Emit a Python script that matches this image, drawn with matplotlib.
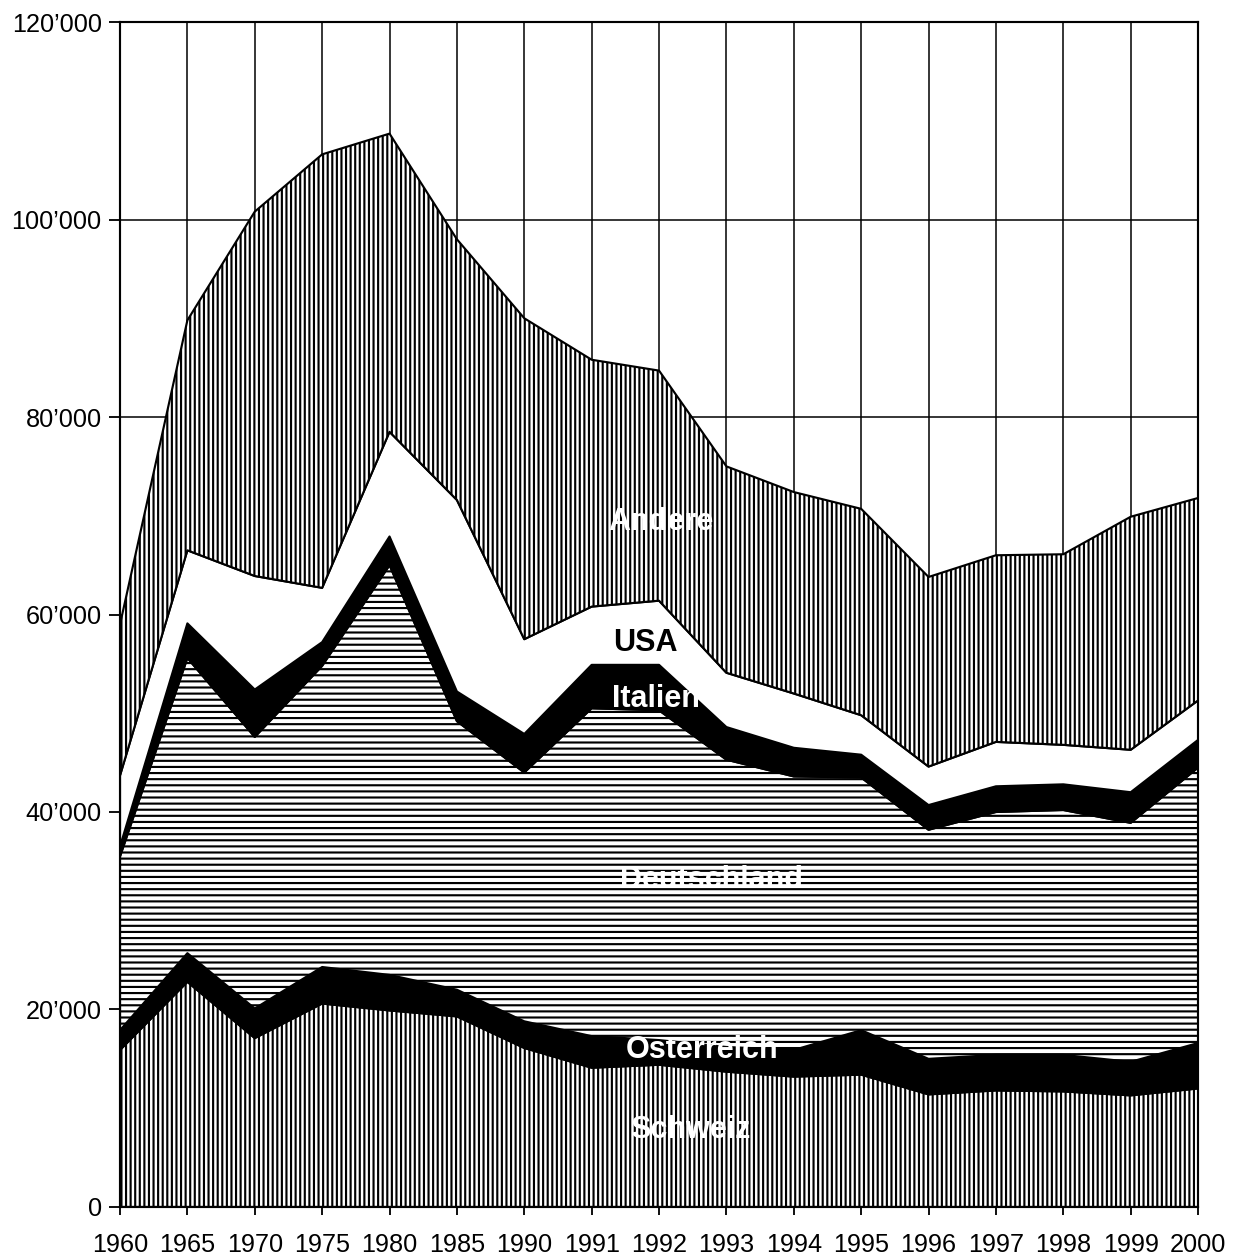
import matplotlib
matplotlib.use("Agg")
import matplotlib.pyplot as plt
from matplotlib.ticker import FuncFormatter

plt.rcParams['font.family'] = ['Liberation Sans', 'DejaVu Sans']
plt.rcParams['hatch.linewidth'] = 1.4
plt.rcParams['hatch.color'] = 'black'

years = ['1960', '1965', '1970', '1975', '1980', '1985', '1990', '1991', '1992',
         '1993', '1994', '1995', '1996', '1997', '1998', '1999', '2000']

schweiz = [15900, 22800, 17100, 20600, 19900, 19300, 16100, 14100, 14400,
           13700, 13200, 13400, 11400, 11800, 11700, 11300, 12000]
oesterreich = [2000, 2900, 3000, 3700, 3600, 2700, 2700, 3200, 2500,
               2500, 2700, 4500, 3600, 3600, 3700, 3400, 4600]
deutschland = [17600, 29900, 27500, 30500, 41500, 27200, 25200, 33200, 33400,
               29100, 27700, 25600, 23200, 24600, 24800, 24200, 27900]
italien = [1000, 3500, 4800, 2400, 2900, 3000, 3900, 4400, 4600,
           3300, 2900, 2300, 2500, 2600, 2600, 3100, 2800]
usa = [7200, 7400, 11500, 5500, 10600, 19400, 9600, 5900, 6500,
       5500, 5500, 4000, 3900, 4500, 4000, 4300, 4000]
andere = [15300, 23300, 36900, 43900, 30200, 26400, 32500, 25000, 23300,
          20900, 20400, 20900, 19200, 18900, 19300, 23600, 20500]

labels = ['Schweiz', 'Österreich', 'Deutschland', 'Italien', 'USA', 'Andere']

dpi = 110
fig = plt.figure(figsize=(1245 / dpi, 1260 / dpi), dpi=dpi)
ax = fig.add_axes([0.0964, 0.0421, 0.8659, 0.9404])

x = list(range(len(years)))
ax.stackplot(x, schweiz, oesterreich, deutschland, italien, usa, andere,
             colors=['white', 'black', 'white', 'black', 'white', 'white'],
             hatch=['||||', '', '---', '', '', '||||'],
             edgecolor='black', linewidth=1.4, zorder=2)

ax.set_xlim(0, len(years) - 1)
ax.set_ylim(0, 120000)
ax.set_xticks(x)
ax.set_xticklabels(years, fontsize=16.5)
ax.set_yticks(range(0, 120001, 20000))
ax.yaxis.set_major_formatter(FuncFormatter(lambda v, p: f"{int(v):,}".replace(',', '\u2019')))
ax.tick_params(axis='y', labelsize=16.5, length=7, width=1.2, direction='out', pad=5)
ax.tick_params(axis='x', length=5, width=1.2, direction='out', pad=12)

ax.grid(True, color='black', linewidth=1.0)
ax.set_axisbelow(True)
for s in ax.spines.values():
    s.set_linewidth(1.4)
    s.set_zorder(3)

txt = dict(ha='center', va='center', fontsize=20, fontweight='bold', zorder=4)
ax.text(8.03, 69400, 'Andere', color='white', **txt)
ax.text(7.79, 57100, 'USA', color='black', **txt)
ax.text(7.95, 51400, 'Italien', color='white', **txt)
ax.text(8.78, 33100, 'Deutschland', color='white', **txt)
ax.text(8.64, 15900, 'Österreich', color='white', **txt)
ax.text(8.46, 7800, 'Schweiz', color='white', **txt)

fig.savefig('out.png', dpi=dpi)
